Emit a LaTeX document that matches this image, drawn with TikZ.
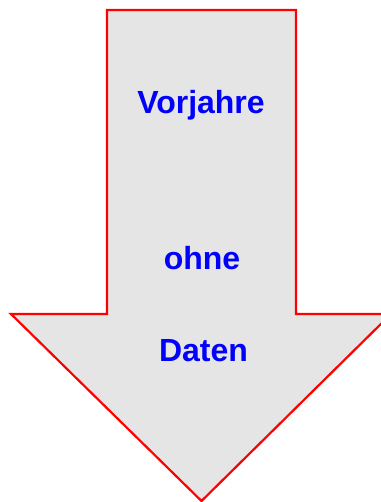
\documentclass[tikz,border=0pt]{standalone}
\usepackage{fontspec}
\setmainfont{Liberation Sans}
\begin{document}
\begin{tikzpicture}[x=1pt,y=-1pt,
  arrowshape/.style={draw=red,line width=2.2pt,fill=black!10,line join=miter},
  lbl/.style={text=blue,font=\fontsize{32}{36}\selectfont\bfseries,inner sep=0pt,anchor=base}]
\useasboundingbox (0,0) rectangle (380,502);
\fill[white] (0,0) rectangle (380,502);
\draw[arrowshape] (107,10) -- (296,10) -- (296,314) -- (391,314) -- (201.5,501) -- (11,314) -- (107,314) -- cycle;
\node[lbl] (v) at (201,113.3) {Vorjahre};
\node[lbl] (o) at (202,269.3) {ohne};
\node[lbl] (d) at (203.5,361.7) {Daten};
\end{tikzpicture}
\end{document}
